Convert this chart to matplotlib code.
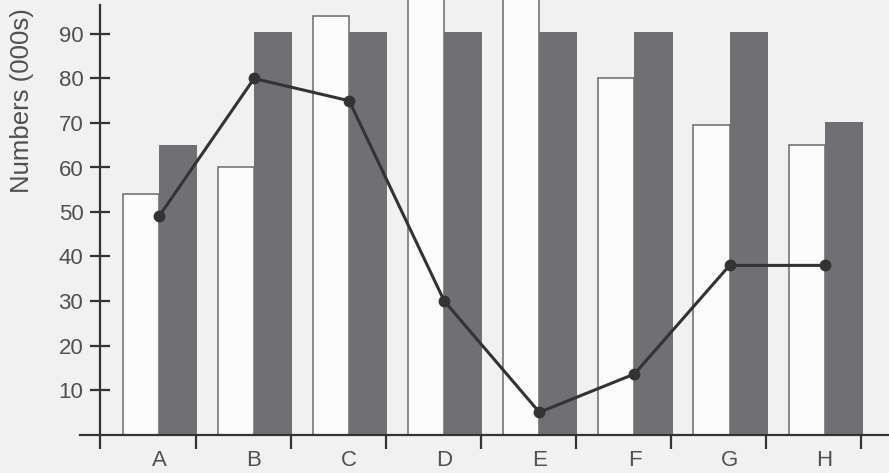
import numpy as np
import matplotlib.pyplot as plt

# donnees (milliers)
categories = ['A', 'B', 'C', 'D', 'E', 'F', 'G', 'H']
white_vals = [54, 60, 94, 110, 110, 80, 69.5, 65]   # D et E sortent du cadre
dark_vals = [65, 90.5, 90.5, 90.5, 90.5, 90.5, 90.5, 70.3]
line_vals = [49, 80, 75, 30, 5, 13.6, 38, 38]
yticks = [10, 20, 30, 40, 50, 60, 70, 80, 90]

bg = '#f1f1f1'
ink = '#333333'
txt = '#505050'

plt.rcParams['font.family'] = ['Liberation Sans', 'DejaVu Sans']

fig = plt.figure(figsize=(8.89, 4.73), dpi=100, facecolor=bg)
# axe qui monte jusqu'en haut de l'image (les barres D et E sortent)
ax = fig.add_axes([100 / 889, (473 - 434.5) / 473, 789 / 889, 434.5 / 473])
ax.set_facecolor(bg)

x = np.arange(len(categories))
ax.bar(x + 0.24, white_vals, width=0.38, align='edge', color='#fbfbfb',
       edgecolor='#6a6a6a', linewidth=1.1, zorder=2)
ax.bar(x + 0.62, dark_vals, width=0.40, align='edge', color='#707074',
       edgecolor='none', zorder=2)
ax.plot(x + 0.62, line_vals, color=ink, lw=2.2, marker='o', markersize=7.5,
        markerfacecolor=ink, markeredgecolor=ink, zorder=4)

ax.set_xlim(0, 789 / 95.1)
ax.set_ylim(0, 434.5 / 4.45)

# axes
for s in ['top', 'right']:
    ax.spines[s].set_visible(False)
ax.spines['left'].set_color(ink)
ax.spines['left'].set_linewidth(1.6)
ax.spines['left'].set_bounds(0, 96.5)
ax.spines['bottom'].set_color(ink)
ax.spines['bottom'].set_linewidth(1.6)
ax.spines['bottom'].set_bounds(-0.21, 789 / 95.1)

ax.set_yticks(yticks)
ax.set_yticklabels([str(v) for v in yticks])
ax.tick_params(axis='y', direction='inout', length=14, width=1.6, color=ink,
               labelsize=16, labelcolor=txt, pad=5)

# separateurs de categories en ticks majeurs, etiquettes en ticks mineurs
ax.set_xticks(np.arange(0, len(categories) + 1) + 0.005)
ax.set_xticklabels([])
ax.set_xticks(x + 0.62, minor=True)
ax.set_xticklabels(categories, minor=True)
ax.tick_params(axis='x', which='major', direction='out', length=10, width=1.6, color=ink)
ax.tick_params(axis='x', which='minor', length=0, labelsize=16, labelcolor=txt, pad=11)

fig.text(22 / 889, 1 - 101 / 473, 'Numbers (000s)', rotation=90, ha='center',
         va='center', fontsize=18.5, color=txt)

fig.savefig('out.png', dpi=100, facecolor=bg)
